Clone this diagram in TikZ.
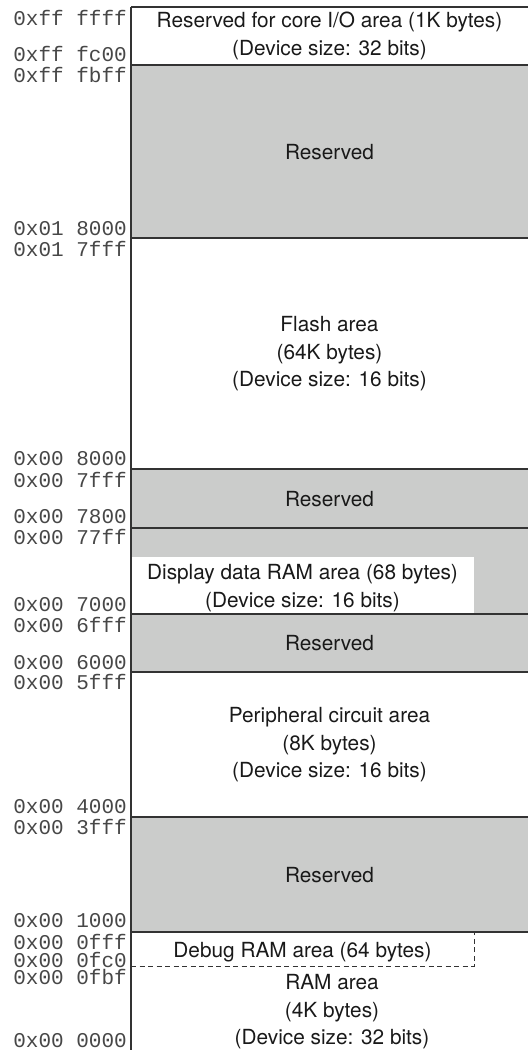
\documentclass[tikz,border=0pt]{standalone}
\usepackage{fontspec}
\setmainfont{TeX Gyre Heros}
\newfontfamily\addrfont{Liberation Mono}

\definecolor{rsvgray}{RGB}{203,204,203}
\definecolor{linegray}{RGB}{51,51,51}

\tikzset{
  addr/.style={anchor=base east, inner sep=0pt, text=black!72,
               text height=12pt, text depth=0pt,
               font=\addrfont\fontsize{21}{21}\selectfont},
  area/.style={align=center, inner sep=0pt, text=black!90,
               font=\fontsize{20.8}{27.5}\selectfont},
  rsvfill/.style={fill=rsvgray},
  mapline/.style={draw=linegray, line width=1.5pt},
}

\def\xL{131}
\def\xR{528}
\def\xD{474}
\def\xC{329.5}

\begin{document}
\begin{tikzpicture}[x=1pt,y=-1pt]
    \useasboundingbox (0,0) rectangle (528,1050);

    %% reserved blocks
    \fill[rsvfill] (\xL, 65) rectangle (\xR,238);
    \fill[rsvfill] (\xL,469) rectangle (\xR,672);
    \fill[white]   (\xL,557) rectangle (\xD,614);
    \fill[rsvfill] (\xL,817) rectangle (\xR,932);

    %% borders
    \foreach \y in {7,65,238,469,528,614,672,817,932}
        \draw[mapline] (\xL,\y) -- (\xR,\y);
    \draw[mapline] (\xL,7) -- (\xL,1050);
    \draw[linegray, line width=0.8pt, dash pattern=on 5pt off 3.5pt]
        (\xL,966) -- (\xD,966) -- (\xD,932);

    %%   (lable)  (x, y)     {\text}
    \node[area] (io)    at (\xC,  36)   {Reserved for core I/O area (1K bytes)\\(Device size: 32 bits)};
    \node[area] (rsv1)  at (\xC, 152)   {Reserved};
    \node[area] (flash) at (\xC, 354)   {Flash area\\(64K bytes)\\(Device size: 16 bits)};
    \node[area] (rsv2)  at (\xC, 499)   {Reserved};
    \node[area] (disp)  at (302.5, 588) {Display data RAM area (68 bytes)\\(Device size: 16 bits)};
    \node[area] (rsv3)  at (\xC, 643)   {Reserved};
    \node[area] (peri)  at (\xC, 745)   {Peripheral circuit area\\(8K bytes)\\(Device size: 16 bits)};
    \node[area] (rsv4)  at (\xC, 875)   {Reserved};
    \node[area] (debug) at (302.5, 952) {Debug RAM area (64 bytes)};
    \node[area] (ram)   at (332, 1012)  {RAM area\\(4K bytes)\\(Device size: 32 bits)};

    %% addresses
    \foreach \y/\a [count=\i] in {25/{0xff ffff}, 61/{0xff fc00}, 82/{0xff fbff},
        235/{0x01 8000}, 256/{0x01 7fff}, 465/{0x00 8000}, 487/{0x00 7fff},
        523/{0x00 7800}, 544/{0x00 77ff}, 611/{0x00 7000}, 632/{0x00 6fff},
        669/{0x00 6000}, 689/{0x00 5fff}, 813/{0x00 4000}, 834/{0x00 3fff},
        927/{0x00 1000}, 949/{0x00 0fff}, 967/{0x00 0fc0}, 984/{0x00 0fbf},
        1047/{0x00 0000}}
        \node[addr] (a\i) at (127,\y) {\a};

  \end{tikzpicture}
\end{document}
